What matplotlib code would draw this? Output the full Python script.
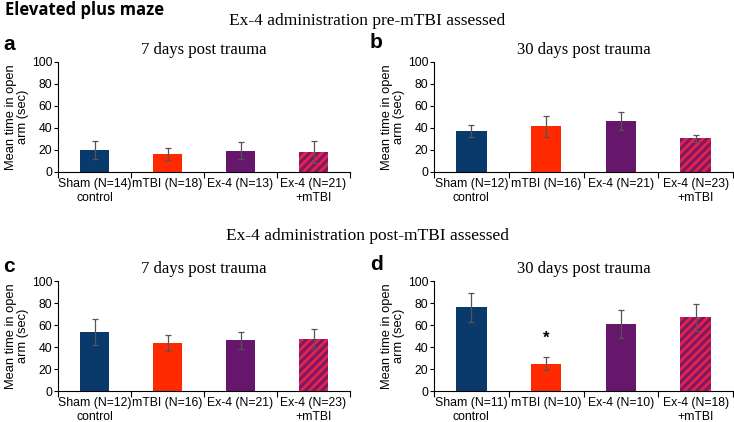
import matplotlib
matplotlib.use("Agg")
import matplotlib.pyplot as plt
import matplotlib as mpl

mpl.rcParams['hatch.linewidth'] = 2.0

groups_a = ["Sham (N=14)\ncontrol", "mTBI (N=18)", "Ex-4 (N=13)", "Ex-4 (N=21)\n+mTBI"]
groups_b = ["Sham (N=12)\ncontrol", "mTBI (N=16)", "Ex-4 (N=21)", "Ex-4 (N=23)\n+mTBI"]
groups_c = ["Sham (N=12)\ncontrol", "mTBI (N=16)", "Ex-4 (N=21)", "Ex-4 (N=23)\n+mTBI"]
groups_d = ["Sham (N=11)\ncontrol", "mTBI (N=10)", "Ex-4 (N=10)", "Ex-4 (N=18)\n+mTBI"]

means_a = [20, 16, 19.5, 18.5]
errs_a = [8, 5.5, 7.5, 10]
means_b = [37, 41.5, 46.5, 30.5]
errs_b = [5.5, 9.5, 8.5, 3.5]
means_c = [53.5, 43.5, 46, 47.5]
errs_c = [12, 7.5, 8, 9]
means_d = [76, 25, 61, 67]
errs_d = [13, 5.5, 13, 12.5]

titles = ["7 days post trauma", "30 days post trauma", "7 days post trauma", "30 days post trauma"]
letters = ["a", "b", "c", "d"]

colors = ["#0a3a6c", "#ff2a00", "#66176b", "#7a1a66"]
hatch_color = "#e8204a"

fig = plt.figure(figsize=(7.34, 4.22), dpi=100)

W, H = 734, 422
def rect(x0, ytop, x1, ybot):
    return [x0 / W, 1 - ybot / H, (x1 - x0) / W, (ybot - ytop) / H]

axes_rects = [rect(58, 62, 350, 172), rect(434, 62, 733, 172),
              rect(58, 281, 350, 391), rect(434, 281, 733, 391)]
data = [(groups_a, means_a, errs_a), (groups_b, means_b, errs_b),
        (groups_c, means_c, errs_c), (groups_d, means_d, errs_d)]

sans = ["Liberation Sans", "DejaVu Sans"]
serif = ["Liberation Serif", "DejaVu Serif"]

for i, (r, (g, m, e)) in enumerate(zip(axes_rects, data)):
    ax = fig.add_axes(r)
    x = list(range(len(g)))
    bars = ax.bar(x, m, width=0.41, color=colors, edgecolor="none", zorder=2)
    bars[3].set_hatch("////")
    bars[3].set_edgecolor(hatch_color)
    bars[3].set_linewidth(0)
    ax.errorbar(x, m, yerr=e, fmt="none", ecolor="#555555", elinewidth=0.9,
                capsize=2, capthick=0.9, zorder=3)
    ax.set_xlim(-0.5, 3.5)
    ax.set_ylim(0, 100)
    ax.set_yticks([0, 20, 40, 60, 80, 100])
    ax.set_xticks([-0.5, 0.5, 1.5, 2.5, 3.5])
    ax.set_xticklabels([])
    ax.set_xticks(x, minor=True)
    ax.set_xticklabels(g, minor=True, fontsize=8.8, family=sans, linespacing=1.25)
    ax.tick_params(axis="x", which="minor", length=0, pad=4)
    ax.tick_params(axis="x", which="major", length=4, direction="out", width=0.8)
    ax.tick_params(axis="y", length=3, width=0.8, labelsize=8.8, pad=1)
    for lab in ax.get_yticklabels():
        lab.set_family(sans)
    for s in ["top", "right"]:
        ax.spines[s].set_visible(False)
    for s in ["left", "bottom"]:
        ax.spines[s].set_linewidth(0.8)
    ax.set_ylabel("Mean time in open\narm (sec)", fontsize=9.3, family=sans,
                  labelpad=2, linespacing=1.0)
    ax.set_title(titles[i], fontsize=12, family=serif, pad=6)
    if i == 3:
        ax.text(1, m[1] + e[1] + 17, "*", ha="center", va="center",
                fontsize=12, fontweight="bold", family=sans)

fig.text(5 / W, 1 - 10 / H, "Elevated plus maze", fontsize=12, fontweight="bold",
         family=["Open Sans", "DejaVu Sans"], va="center", ha="left")
fig.text(367 / W, 1 - 21 / H, "Ex-4 administration pre-mTBI assessed", fontsize=12.5,
         family=serif, ha="center", va="center")
fig.text(367 / W, 1 - 236 / H, "Ex-4 administration post-mTBI assessed", fontsize=12.5,
         family=serif, ha="center", va="center")
letter_pos = [(3, 45), (370, 42), (3, 266), (370, 264)]
for L, (lx, ly) in zip(letters, letter_pos):
    fig.text(lx / W, 1 - ly / H, L, fontsize=15, fontweight="bold", family=sans,
             ha="left", va="center")

fig.savefig("out.png", dpi=100)
